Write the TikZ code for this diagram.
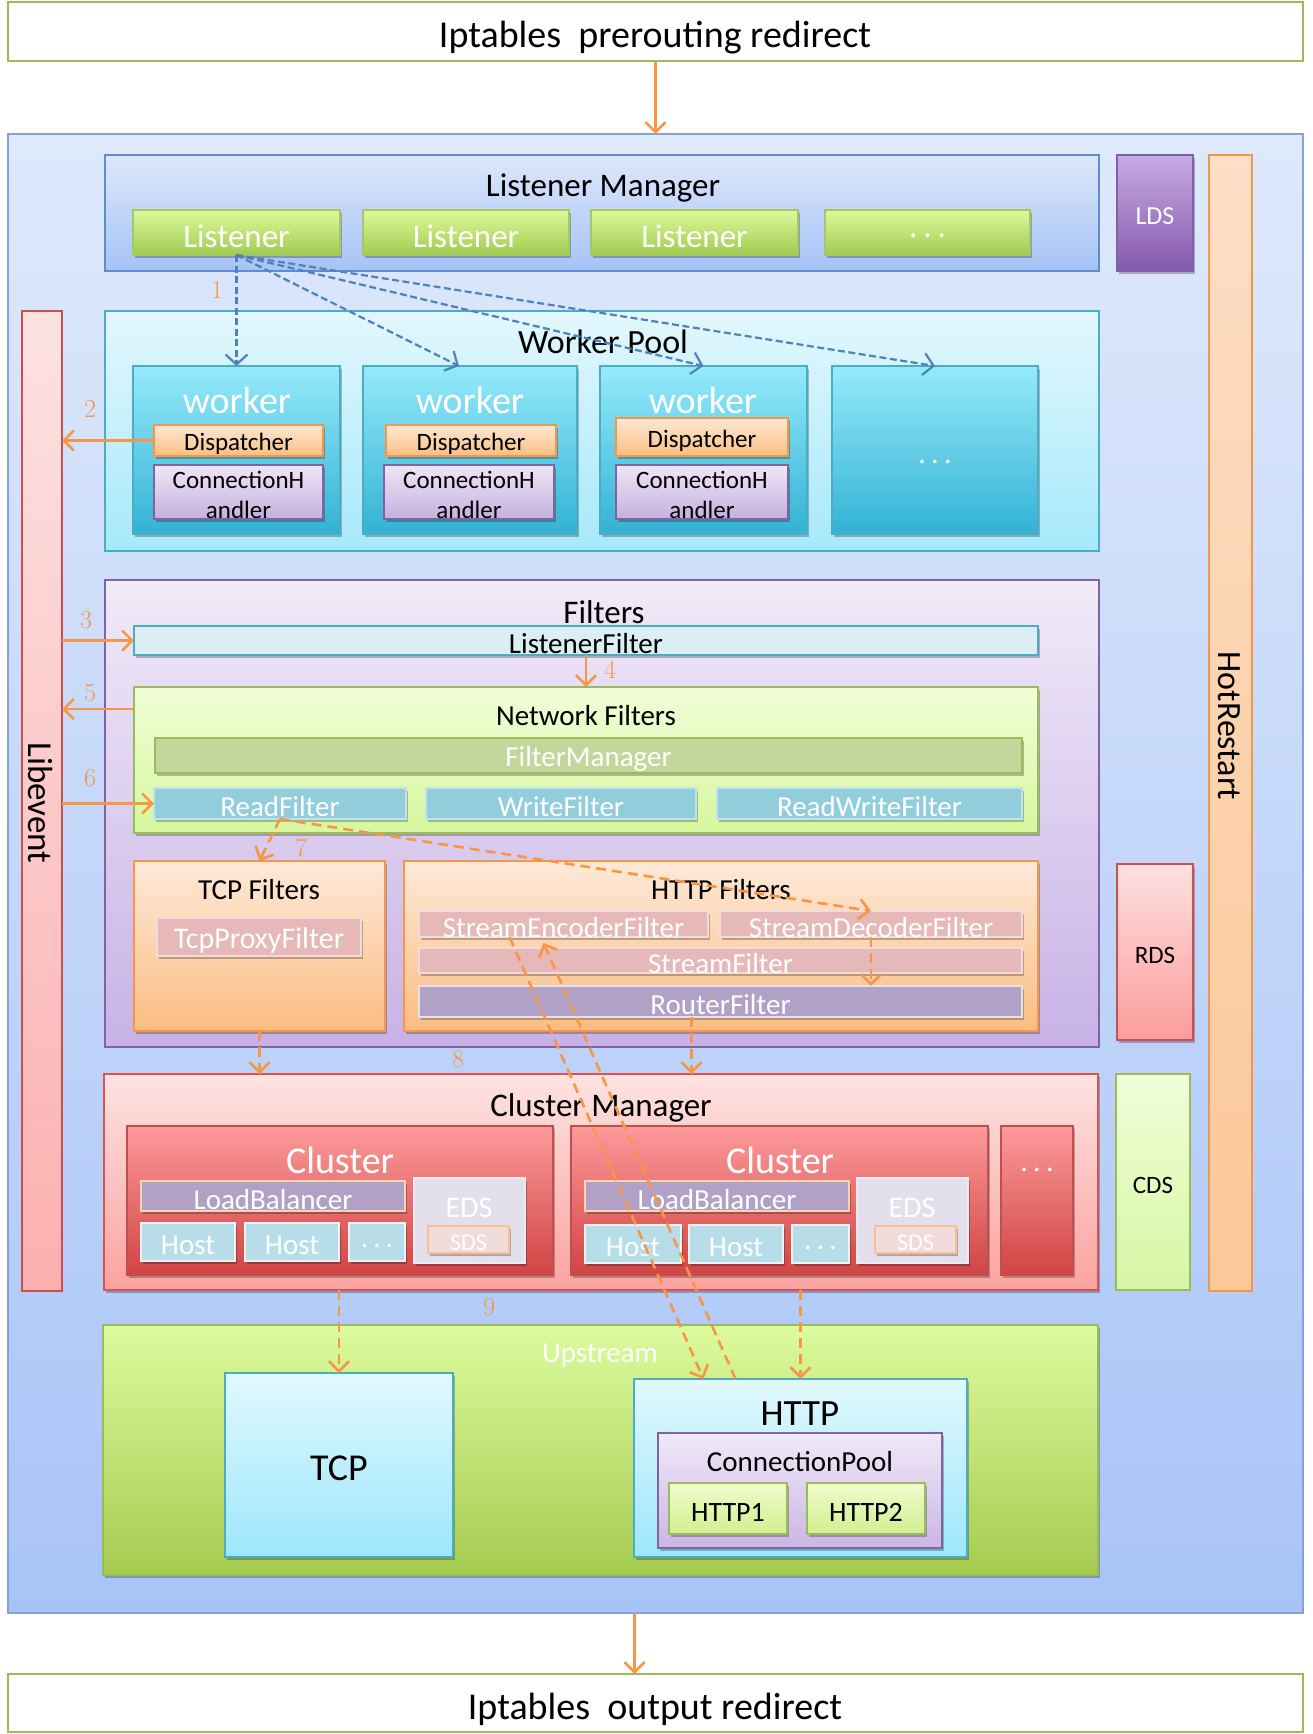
\documentclass[tikz,border=0pt]{standalone}
\usepackage{fontspec}
\newfontfamily\calfont{Carlito}
\usetikzlibrary{arrows.meta,shadows}
\newcommand\FS[1]{\fontsize{#1}{#1}\selectfont}
\newcommand\Bx[7]{\node[bx,#1,minimum width={(#5)-(#3)},minimum height={(#6)-(#4)}] (#2) at (#3,#4) {\raisebox{-3.5pt}[\height][\depth]{#7}};}
\newcommand\dts{.\hspace{0.18em}.\hspace{0.18em}.}
\definecolor{gB}{HTML}{9BBB59}
\definecolor{oB}{HTML}{F79646}
\definecolor{bB}{HTML}{4F81BD}
\definecolor{cB}{HTML}{4BACC6}
\definecolor{pB}{HTML}{8064A2}
\definecolor{rB}{HTML}{C0504D}
\begin{document}
\begin{tikzpicture}[x=1pt,y=-1pt,
 bx/.style={anchor=north west,inner sep=0pt,outer sep=0pt,line width=1.5pt,align=center,font=\calfont},
 txt/.style={inner sep=0pt,outer sep=0pt,font=\calfont,align=center},
 shd/.style={drop shadow={shadow xshift=2pt,shadow yshift=-3pt,opacity=0.25,fill=black}},
 ipt/.style={fill=white,draw=gB},
 mainb/.style={top color={rgb,255:red,223;green,233;blue,252},bottom color={rgb,255:red,168;green,196;blue,247},draw={rgb,255:red,130;green,162;blue,216}},
 lmb/.style={top color={rgb,255:red,221;green,231;blue,251},bottom color={rgb,255:red,166;green,195;blue,246},draw={rgb,255:red,95;green,141;blue,204}},
 lis/.style={shd,top color={rgb,255:red,221;green,249;blue,154},bottom color={rgb,255:red,160;green,204;blue,82},draw={rgb,255:red,165;green,199;blue,100},text=white,font=\calfont\FS{33}},
 lds/.style={shd,top color={rgb,255:red,200;green,171;blue,227},bottom color={rgb,255:red,133;green,88;blue,172},draw={rgb,255:red,127;green,98;blue,166},text=white,font=\calfont\FS{26}},
 hot/.style={top color={rgb,255:red,253;green,222;blue,198},bottom color={rgb,255:red,251;green,200;blue,152},draw=oB},
 lib/.style={top color={rgb,255:red,253;green,226;blue,226},bottom color={rgb,255:red,252;green,176;blue,176},draw={rgb,255:red,201;green,80;blue,76}},
 wp/.style={top color={rgb,255:red,227;green,247;blue,253},bottom color={rgb,255:red,166;green,233;blue,251},draw=cB},
 wk/.style={shd,top color={rgb,255:red,149;green,234;blue,250},bottom color={rgb,255:red,51;green,178;blue,212},draw=cB},
 disp/.style={shd,top color={rgb,255:red,253;green,232;blue,212},bottom color={rgb,255:red,251;green,190;blue,130},draw=oB,font=\calfont\FS{25}},
 chd/.style={shd,top color={rgb,255:red,238;green,231;blue,245},bottom color={rgb,255:red,198;green,175;blue,224},draw=pB},
 filt/.style={top color={rgb,255:red,240;green,234;blue,248},bottom color={rgb,255:red,200;green,178;blue,230},draw=pB},
 lfb/.style={shd,fill={rgb,255:red,218;green,238;blue,243},draw=cB,font=\calfont\FS{29}},
 nfb/.style={shd,top color={rgb,255:red,241;green,253;blue,216},bottom color={rgb,255:red,214;green,247;blue,158},draw=gB},
 fmb/.style={shd,fill={rgb,255:red,195;green,214;blue,155},draw=gB,text=white,font=\calfont\FS{29}},
 rwb/.style={shd,fill={rgb,255:red,146;green,205;blue,220},draw={rgb,255:red,191;green,227;blue,236},text=white,font=\calfont\FS{29}},
 tfb/.style={shd,top color={rgb,255:red,254;green,233;blue,216},bottom color={rgb,255:red,251;green,189;blue,130},draw=oB},
 pkb/.style={shd,fill={rgb,255:red,230;green,185;blue,184},draw={rgb,255:red,242;green,220;blue,219},text=white,font=\calfont\FS{29}},
 rtb/.style={shd,fill={rgb,255:red,178;green,161;blue,199},draw={rgb,255:red,230;green,224;blue,236},text=white,font=\calfont\FS{29}},
 rds/.style={shd,top color={rgb,255:red,253;green,224;blue,224},bottom color={rgb,255:red,252;green,156;blue,156},draw={rgb,255:red,201;green,80;blue,76},font=\calfont\FS{25}},
 cmb/.style={shd,top color={rgb,255:red,253;green,227;blue,225},bottom color={rgb,255:red,252;green,162;blue,160},draw={rgb,255:red,217;green,83;blue,79}},
 clb/.style={shd,top color={rgb,255:red,253;green,154;blue,154},bottom color={rgb,255:red,208;green,68;blue,68},draw=rB},
 lbb/.style={shd,fill={rgb,255:red,178;green,161;blue,199},draw={rgb,255:red,251;green,212;blue,180},text=white,font=\calfont\FS{29}},
 hsb/.style={shd,fill={rgb,255:red,183;green,222;blue,232},draw={rgb,255:red,242;green,242;blue,242},text=white,font=\calfont\FS{29}},
 edb/.style={shd,fill={rgb,255:red,228;green,223;blue,236},draw={rgb,255:red,238;green,234;blue,244}},
 sdb/.style={shd,fill={rgb,255:red,242;green,220;blue,219},draw={rgb,255:red,250;green,192;blue,144},text=white,font=\calfont\FS{24}},
 cds/.style={top color={rgb,255:red,240;green,253;blue,217},bottom color={rgb,255:red,214;green,247;blue,163},draw=gB,font=\calfont\FS{25}},
 upb/.style={shd,top color={rgb,255:red,220;green,251;blue,158},bottom color={rgb,255:red,166;green,203;blue,80},draw=gB},
 cyb/.style={shd,top color={rgb,255:red,225;green,248;blue,254},bottom color={rgb,255:red,157;green,231;blue,251},draw=cB},
 cpb/.style={shd,top color={rgb,255:red,240;green,233;blue,247},bottom color={rgb,255:red,203;green,182;blue,229},draw=pB},
 hpb/.style={shd,top color={rgb,255:red,239;green,252;blue,206},bottom color={rgb,255:red,208;green,239;blue,142},draw=gB,font=\calfont\FS{28}},
 oar/.style={draw=oB,line width=2.6pt,-{Straight Barb[length=10pt,width=20pt]}},
 oda/.style={oar,dash pattern=on 10pt off 6pt},
 bda/.style={draw=bB,line width=2.2pt,dash pattern=on 7pt off 3.5pt,-{Straight Barb[length=10pt,width=22pt]}},
 num/.style={inner sep=0pt,text=oB,font=\FS{26}},
 cht/.style={txt,font=\calfont\fontsize{25}{30}\selectfont}
]
\useasboundingbox (0,0) rectangle (1312,1734);
% outer
\Bx{ipt}{topbox}{8}{2}{1303}{61}{}
\node[txt,font=\calfont\FS{38}] (topt) at (655,38) {Iptables\ \ prerouting redirect};
\Bx{mainb}{main}{8}{134}{1303}{1613}{}
\Bx{ipt}{botbox}{8}{1674}{1303}{1732}{}
\node[txt,font=\calfont\FS{38}] (bott) at (655,1709) {Iptables\ \ output redirect};
% listener manager
\Bx{lmb}{lm}{105}{155}{1099}{271}{}
\node[txt,font=\calfont\FS{33}] (lmt) at (603,188) {Listener Manager};
\Bx{lis}{lis1}{133}{210}{340}{255}{Listener}
\Bx{lis}{lis2}{363}{210}{569}{255}{Listener}
\Bx{lis}{lis3}{591}{210}{798}{255}{Listener}
\Bx{lis}{lis4}{825}{210}{1030}{255}{\dts}
\Bx{lds}{lds}{1117}{155}{1193}{271}{LDS}
\Bx{hot}{hot}{1209}{155}{1252}{1291}{}
\node[txt,rotate=-90,font=\calfont\FS{34}] (hott) at (1229,726) {HotRestart};
\Bx{lib}{lib}{22}{311}{62}{1291}{}
\node[txt,rotate=-90,font=\calfont\FS{35}] (libt) at (41,803) {Libevent};
% worker pool
\Bx{wp}{wp}{105}{311}{1099}{551}{}
\Bx{wk}{w1}{133}{366}{340}{534}{}
\Bx{wk}{w2}{363}{366}{577}{534}{}
\Bx{wk}{w3}{600}{366}{807}{534}{}
\Bx{wk}{w4}{832}{366}{1038}{534}{}
\node[txt,font=\calfont\FS{34}] (wpt) at (603,342) {Worker Pool};
\node[txt,text=white,font=\calfont\FS{38}] (wt1) at (237,400) {worker};
\node[txt,text=white,font=\calfont\FS{38}] (wt2) at (470,400) {worker};
\node[txt,text=white,font=\calfont\FS{38}] (wt3) at (703,400) {worker};
\node[txt,text=white,font=\calfont\FS{30}] (wt4) at (935,462) {\dts};
\Bx{disp}{d1}{154}{425}{323}{456}{Dispatcher}
\Bx{disp}{d2}{386}{425}{556}{456}{Dispatcher}
\Bx{disp}{d3}{616}{418}{788}{456}{Dispatcher}
\Bx{chd}{c1}{154}{465}{323}{519}{}
\Bx{chd}{c2}{384}{465}{554}{519}{}
\Bx{chd}{c3}{616}{465}{788}{519}{}
\node[cht] (ct1) at (238.5,495) {ConnectionH\\andler};
\node[cht] (ct2) at (469,495) {ConnectionH\\andler};
\node[cht] (ct3) at (702,495) {ConnectionH\\andler};
% filters
\Bx{filt}{filt}{105}{580}{1099}{1047}{}
\node[txt,font=\calfont\FS{33}] (filtt) at (604,612) {Filters};
\Bx{lfb}{lf}{134}{626}{1038}{655}{ListenerFilter}
\Bx{nfb}{nf}{134}{687}{1038}{833}{}
\node[txt,font=\calfont\FS{29}] (nft) at (586,716) {Network Filters};
\Bx{fmb}{fm}{155}{738}{1022}{773}{FilterManager}
\Bx{rwb}{rf}{154}{788}{406}{819}{ReadFilter}
\Bx{rwb}{wf}{426}{788}{696}{819}{WriteFilter}
\Bx{rwb}{rwf}{717}{788}{1022}{819}{ReadWriteFilter}
\Bx{tfb}{tcpf}{134}{861}{385}{1031}{}
\node[txt,font=\calfont\FS{29}] (tcpft) at (259,890) {TCP Filters};
\Bx{pkb}{tpf}{157}{918}{361}{956}{\FS{30}TcpProxyFilter}
\Bx{tfb}{httpf}{404}{861}{1038}{1031}{}
\node[txt,font=\calfont\FS{29}] (httpft) at (721,890) {HTTP Filters};
\Bx{pkb}{senc}{419}{911}{708}{937}{StreamEncoderFilter}
\Bx{pkb}{sdec}{720}{911}{1022}{937}{StreamDecoderFilter}
\Bx{pkb}{sf}{419}{948}{1022}{973}{StreamFilter}
\Bx{rtb}{router}{419}{986}{1022}{1017}{RouterFilter}
\Bx{rds}{rds}{1117}{864}{1193}{1040}{RDS}
% cluster manager
\Bx{cmb}{cm}{104}{1074}{1098}{1290}{}
\node[txt,font=\calfont\FS{33}] (cmt) at (601,1108) {Cluster Manager};
\Bx{clb}{cl1}{127}{1126}{553}{1275}{}
\Bx{clb}{cl2}{571}{1126}{988}{1275}{}
\Bx{clb}{cl3}{1001}{1126}{1073}{1275}{}
\node[txt,text=white,font=\calfont\FS{38}] (cl1t) at (340,1160) {Cluster};
\node[txt,text=white,font=\calfont\FS{38}] (cl2t) at (780,1160) {Cluster};
\node[txt,text=white,font=\calfont\FS{30}] (cl3t) at (1037,1170) {\dts};
\Bx{lbb}{lb1}{141}{1181}{405}{1211}{LoadBalancer}
\Bx{hsb}{h11}{141}{1223}{235}{1261}{Host}
\Bx{hsb}{h12}{245}{1223}{339}{1261}{Host}
\Bx{hsb}{h13}{349}{1223}{405}{1261}{\dts}
\Bx{edb}{eds1}{414}{1178}{525}{1263}{}
\node[txt,text=white,font=\calfont\FS{30}] (eds1t) at (469,1208) {EDS};
\Bx{sdb}{sds1}{428}{1226}{509}{1253}{SDS}
\Bx{lbb}{lb2}{585}{1181}{849}{1211}{LoadBalancer}
\Bx{hsb}{h21}{585}{1225}{681}{1263}{Host}
\Bx{hsb}{h22}{689}{1225}{783}{1263}{Host}
\Bx{hsb}{h23}{792}{1225}{849}{1263}{\dts}
\Bx{edb}{eds2}{857}{1178}{968}{1263}{}
\node[txt,text=white,font=\calfont\FS{30}] (eds2t) at (912,1208) {EDS};
\Bx{sdb}{sds2}{875}{1226}{956}{1253}{SDS}
\Bx{cds}{cds}{1116}{1074}{1190}{1290}{CDS}
% upstream
\Bx{upb}{up}{103}{1325}{1098}{1575}{}
\node[txt,text=white,font=\calfont\FS{29}] (upt) at (600,1356) {Upstream};
\Bx{cyb}{tcp}{225}{1373}{453}{1557}{\FS{38}TCP}
\Bx{cyb}{http}{634}{1379}{967}{1557}{}
\node[txt,font=\calfont\FS{37}] (httpt) at (800,1414) {HTTP};
\Bx{cpb}{cp}{658}{1433}{942}{1548}{}
\node[txt,font=\calfont\FS{29}] (cpt) at (800,1462) {ConnectionPool};
\Bx{hpb}{hp1}{669}{1483}{787}{1534}{HTTP1}
\Bx{hpb}{hp2}{807}{1483}{925}{1534}{HTTP2}
% connectors
\draw[oar] (topbox.south) -- (main.north);
\draw[oar] ([xshift=-21pt]main.south) -- ([xshift=-21pt]botbox.north);
\draw[bda] (lis1.south) -- (w1.north);
\draw[bda] (lis1.south) -- ([xshift=-11pt]w2.north);
\draw[bda] (lis1.south) -- (w3.north);
\draw[bda] (lis1.south) -- (w4.north);
\draw[oar] (d1.west) -- (d1.west -| lib.east);
\draw[oar] (lib.east |- lf.west) -- (lf.west);
\draw[oar] (lf.south) -- (nf.north);
\draw[oar] ([yshift=-22pt]nf.north west) -- ([yshift=-22pt]nf.north west -| lib.east);
\draw[oar] (lib.east |- rf.west) -- (rf.west);
\draw[oda] (rf.south) -- (tcpf.north);
\draw[oda] (rf.south) -- (sdec.north);
\draw[oda] (sdec.south) -- (sdec.south |- router.north);
\draw[oda] (tcpf.south) -- (tcpf.south |- cm.north);
\draw[oda] ([xshift=-29pt]router.south) -- ([xshift=-29pt]router.south |- cm.north);
\draw[oda] (tcp.north |- cm.south) -- (tcp.north);
\draw[oda] (http.north |- cm.south) -- (http.north);
\draw[oda] ([xshift=-54pt]senc.south) -- ([xshift=-97pt]http.north);
\draw[oda] ([xshift=-65pt]http.north) -- ([xshift=-20pt,yshift=-6pt]senc.south);
% numbers
\node[num] (n1) at (217,290) {1};
\node[num] (n2) at (90,409) {2};
\node[num] (n3) at (86,620) {3};
\node[num] (n4) at (610,670) {4};
\node[num] (n5) at (90,693) {5};
\node[num] (n6) at (90,778) {6};
\node[num] (n7) at (301,848) {7};
\node[num] (n8) at (458,1059) {8};
\node[num] (n9) at (489,1307) {9};
\end{tikzpicture}
\end{document}
